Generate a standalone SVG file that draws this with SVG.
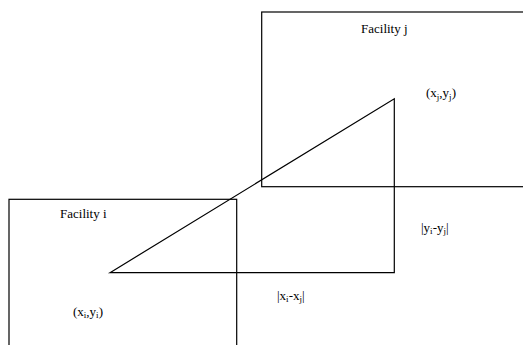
<svg xmlns="http://www.w3.org/2000/svg" width="523" height="345" viewBox="0 0 523 345">
<style>
.box{fill:none;stroke:#000;stroke-width:1.2}
.ln{fill:none;stroke:#000;stroke-width:1.2}
text{font-family:"Liberation Serif","Times New Roman",serif;font-size:13px;fill:#000}
.sub{font-size:9px}
</style>
<rect width="523" height="345" fill="#fff"/>
<g id="facility-j">
<rect class="box" x="261.7" y="12" width="270" height="174.7"/>
<text x="361" y="33">Facility j</text>
<text x="426" y="97">(x<tspan class="sub" dy="3">j</tspan><tspan dy="-3">,y</tspan><tspan class="sub" dy="3">j</tspan><tspan dy="-3">)</tspan></text>
</g>
<g id="facility-i">
<rect class="box" x="9" y="199.3" width="227.7" height="160"/>
<text x="60" y="218">Facility i</text>
<text x="73" y="316">(x<tspan class="sub" dy="2">i</tspan><tspan dy="-2">,y</tspan><tspan class="sub" dy="2">i</tspan><tspan dy="-2">)</tspan></text>
</g>
<g id="connectors">
<polygon class="ln" points="110,272.7 394.3,98.7 394.3,272.7"/>
</g>
<g id="labels">
<text x="421" y="231.5">|y<tspan class="sub" dy="2">i</tspan><tspan dy="-2">-y</tspan><tspan class="sub" dy="2">j</tspan><tspan dy="-2">|</tspan></text>
<text x="277" y="300">|x<tspan class="sub" dy="2">i</tspan><tspan dy="-2">-x</tspan><tspan class="sub" dy="2">j</tspan><tspan dy="-2">|</tspan></text>
</g>
</svg>
